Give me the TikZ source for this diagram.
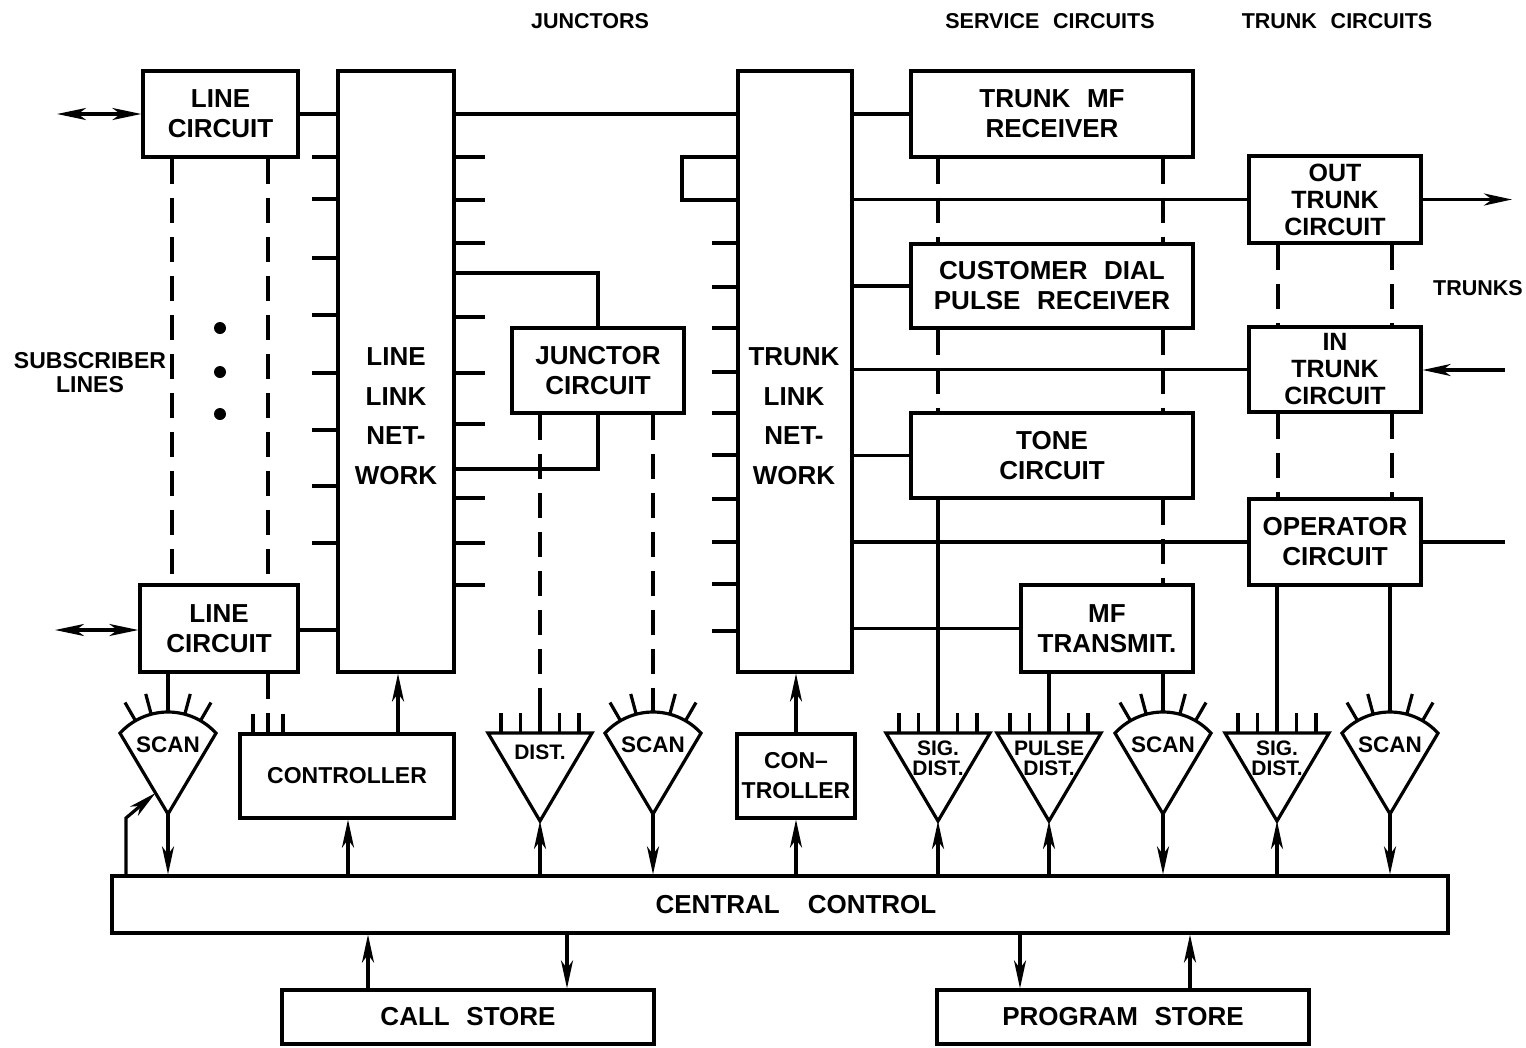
\documentclass[tikz,border=0pt]{standalone}
\usepackage{fontspec}
\setmainfont{Liberation Sans}[WordSpace=2.3]
\usetikzlibrary{arrows.meta}
\tikzset{
  ln/.style={line width=3.2pt},
  blk/.style={draw, line width=3.2pt, inner sep=0pt, align=center, font=\fontsize{26}{30}\bfseries\selectfont},
  txt/.style={inner sep=0pt, align=center, font=\fontsize{26}{30}\bfseries\selectfont},
  lbl/.style={inner sep=0pt, align=center, font=\fontsize{21.5}{24}\bfseries\selectfont},
  fanlbl/.style={inner sep=0pt, align=center, font=\fontsize{21}{20}\bfseries\selectfont},
  dsh/.style={line width=3.2pt, dash pattern=on 25pt off 14pt},
  arr/.style={line width=3.2pt, -{Stealth[length=28pt,width=12pt,inset=8pt]}},
  dbl/.style={line width=3.2pt, {Stealth[length=29pt,width=12pt,inset=8pt]}-{Stealth[length=29pt,width=12pt,inset=8pt]}},
}
\newcommand\blkbox[6]{\node[blk, minimum width={#4-#2}, minimum height={#5-#3}] (#1) at ({(#2+#4)/2},{(#3+#5)/2}) {#6};}
\newcommand\scanfan[2]{%
  \draw[ln, line join=miter] plot[domain=42.4:137.6, samples=40] ({#2+65*cos(\x)},{777-65*sin(\x)}) -- (#2,814) -- cycle;
  \foreach \a in {60,75,90,105,120} \draw[ln] ({#2+65*cos(\a)},{777-65*sin(\a)}) -- ({#2+86*cos(\a)},{777-86*sin(\a)});
  \node[fanlbl, font=\fontsize{22.5}{20}\bfseries\selectfont] (#1) at (#2,745) {SCAN};
  \coordinate (#1-apex) at (#2,814);
  \coordinate (#1-top) at (#2,712);
}
\newcommand\distfan[4]{%
  \draw[ln, line join=miter] ({#2-52},733) -- ({#2+52},733) -- (#2,821) -- cycle;
  \foreach \d in {-39,-19.5,0,19.5,39} \draw[ln] ({#2+\d},733) -- ({#2+\d},713);
  \node[fanlbl] (#1) at (#2,#3) {#4};
  \coordinate (#1-apex) at (#2,821);
  \coordinate (#1-top) at (#2,733);
  \coordinate (#1-tick) at (#2,713);
}
\begin{document}
\begin{tikzpicture}[x=1pt,y=-1pt]
\useasboundingbox[fill=white] (0,0) rectangle (1526,1047);

% headings
\node[lbl] (hj) at (590,21) {JUNCTORS};
\node[lbl] (hs) at (1050,21) {SERVICE CIRCUITS};
\node[lbl] (ht) at (1337,21) {TRUNK CIRCUITS};
\node[lbl] (htr) at (1478,288) {TRUNKS};
\node[lbl, font=\fontsize{23}{24}\bfseries\selectfont] (hsub) at (90,373) {SUBSCRIBER\\LINES};

% boxes
\blkbox{lc1}{143}{71}{298}{157}{LINE\\CIRCUIT}
\blkbox{lc2}{140}{585}{298}{672}{LINE\\CIRCUIT}
\blkbox{lln}{338}{71}{454}{672}{}
\node[txt, font=\fontsize{26}{39.5}\bfseries\selectfont] (llnt) at (396,416) {LINE\\LINK\\NET-\\WORK};
\blkbox{jc}{512}{328}{684}{413}{JUNCTOR\\CIRCUIT}
\blkbox{tln}{738}{71}{852}{672}{}
\node[txt, font=\fontsize{26}{39.5}\bfseries\selectfont] (tlnt) at (794,416) {TRUNK\\LINK\\NET-\\WORK};
\blkbox{tmf}{911}{71}{1193}{157}{TRUNK MF\\RECEIVER}
\blkbox{cdpr}{911}{244}{1193}{328}{CUSTOMER DIAL\\PULSE RECEIVER}
\blkbox{tone}{911}{413}{1193}{498}{TONE\\CIRCUIT}
\blkbox{mft}{1021}{585}{1193}{672}{MF\\TRANSMIT.}
\node[blk, font=\fontsize{25}{27}\bfseries\selectfont, minimum width=172, minimum height=87] (otc) at (1335,199.5) {OUT\\TRUNK\\CIRCUIT};
\node[blk, font=\fontsize{25}{27}\bfseries\selectfont, minimum width=172, minimum height=85] (itc) at (1335,369.5) {IN\\TRUNK\\CIRCUIT};
\blkbox{opc}{1249}{499}{1421}{585}{OPERATOR\\CIRCUIT}
\node[blk, font=\fontsize{23}{30}\bfseries\selectfont, minimum width=214, minimum height=84] (ctl1) at (347,776) {CONTROLLER};
\node[blk, font=\fontsize{23}{30}\bfseries\selectfont, minimum width=118, minimum height=84] (ctl2) at (796,776) {CON--\\TROLLER};
\blkbox{cc}{112}{876}{1448}{933}{}
\node[txt] (cct) at (796,905) {CENTRAL\hspace{28pt}CONTROL};
\blkbox{cs}{282}{990}{654}{1044}{CALL STORE}
\blkbox{ps}{937}{990}{1309}{1044}{PROGRAM STORE}

% fans
\scanfan{scan1}{168}
\scanfan{scan2}{653}
\scanfan{scan3}{1163}
\scanfan{scan4}{1390}
\distfan{dist1}{540}{752}{DIST.}
\distfan{sig1}{938}{758}{SIG.\\DIST.}
\distfan{pul}{1049}{758}{PULSE\\DIST.}
\distfan{sig2}{1277}{758}{SIG.\\DIST.}

% controller ticks
\foreach \t in {253,268,283} \draw[ln] (\t,734) -- (\t,714);

% subscriber lines
\coordinate (sub1) at (57,114);
\coordinate (sub2) at (55,630);
\draw[dbl] (sub1) -- (lc1.west |- sub1);
\draw[dbl] (sub2) -- (lc2.west |- sub2);
\draw[ln] (lc1.east |- sub1) -- (lln.west |- sub1);
\draw[ln] (lc2.east |- sub2) -- (lln.west |- sub2);

% LLN stubs
\foreach \y in {157,199,258,315,373,430,486,543} \draw[ln] (312,\y) -- (lln.west |- 0,\y);
\foreach \y in {157,200,243,317,373,424,498,543,585} \draw[ln] (lln.east |- 0,\y) -- (485,\y);
% LLN to TLN
\draw[ln] (lln.east |- tmf.west) -- (tln.west |- tmf.west);
% junctor
\draw[ln] (lln.east |- 0,273) -- (jc.north |- 0,273) -- (jc.north);
\draw[ln] (jc.south) -- (jc.south |- 0,469) -- (lln.east |- 0,469);

% TLN left stubs and loop
\foreach \y in {243,287,328,372,413,455,499,542,584,631} \draw[ln] (712,\y) -- (tln.west |- 0,\y);
\draw[ln] (tln.west |- 0,157) -- (682,157) -- (682,200) -- (tln.west |- 0,200);

% TLN right connections
\draw[ln] (tln.east |- tmf.west) -- (tmf.west);
\draw[ln] (tln.east |- otc.west) -- (otc.west);
\draw[ln] (tln.east |- cdpr.west) -- (cdpr.west);
\draw[ln] (tln.east |- itc.west) -- (itc.west);
\draw[ln] (tln.east |- tone.west) -- (tone.west);
\draw[ln] (tln.east |- opc.west) -- (opc.west);
\draw[ln] (tln.east |- mft.west) -- (mft.west);

% trunks
\coordinate (tout) at (1512,200);
\coordinate (tin) at (1505,370);
\coordinate (top) at (1505,542);
\draw[arr] (otc.east) -- (tout |- otc.east);
\draw[arr] (tin) -- (itc.east |- tin);
\draw[ln] (opc.east) -- (top |- opc.east);

% dots
\foreach \y in {328,372,414} \fill (220,\y) circle[radius=6];

% dashed: line circuits
\draw[dsh] (lc1.south -| 172,0) -- (lc2.north -| 172,0);
\draw[dsh] (lc1.south -| 268,0) -- (lc2.north -| 268,0);
\draw[dsh] (lc2.south -| scan1-top) -- (scan1-top);
\draw[dsh] (lc2.south -| 268,0) -- (268,714);
% junctor dashed
\draw[dsh] (jc.south -| dist1-tick) -- (dist1-tick);
\draw[dsh] (jc.south -| scan2-top) -- (scan2-top);
% service
\draw[dsh] (tmf.south -| sig1-top) -- (cdpr.north -| sig1-top);
\draw[dsh] (cdpr.south -| sig1-top) -- (tone.north -| sig1-top);
\draw[ln] (tone.south -| sig1-top) -- (sig1-top);
\draw[dsh] (tmf.south -| scan3-top) -- (cdpr.north -| scan3-top);
\draw[dsh] (cdpr.south -| scan3-top) -- (tone.north -| scan3-top);
\draw[dsh] (tone.south -| scan3-top) -- (mft.north -| scan3-top);
\draw[ln] (mft.south -| scan3-top) -- (scan3-top);
\draw[ln] (mft.south -| pul-top) -- (pul-top);
% trunk
\draw[dsh] (otc.south -| 1278,0) -- (itc.north -| 1278,0);
\draw[dsh] (itc.south -| 1278,0) -- (opc.north -| 1278,0);
\draw[dsh] (otc.south -| 1392,0) -- (itc.north -| 1392,0);
\draw[dsh] (itc.south -| 1392,0) -- (opc.north -| 1392,0);
\draw[ln] (opc.south -| sig2-top) -- (sig2-top);
\draw[ln] (opc.south -| scan4-top) -- (scan4-top);

% arrows to/from central control
\draw[arr] (scan1-apex) -- (scan1-apex |- cc.north);
\coordinate (s1e) at (155.5,793);
\draw[arr] (126,0 |- cc.north) -- (126,818) -- (s1e);
\draw[arr] (348,0 |- cc.north) -- (348,0 |- ctl1.south);
\draw[arr] (398,0 |- ctl1.north) -- (398,0 |- lln.south);
\draw[arr] (dist1-apex |- cc.north) -- (dist1-apex);
\draw[arr] (scan2-apex) -- (scan2-apex |- cc.north);
\draw[arr] (ctl2.south |- cc.north) -- (ctl2.south);
\draw[arr] (ctl2.north) -- (ctl2.north |- tln.south);
\draw[arr] (sig1-apex |- cc.north) -- (sig1-apex);
\draw[arr] (pul-apex |- cc.north) -- (pul-apex);
\draw[arr] (scan3-apex) -- (scan3-apex |- cc.north);
\draw[arr] (sig2-apex |- cc.north) -- (sig2-apex);
\draw[arr] (scan4-apex) -- (scan4-apex |- cc.north);
% stores
\draw[arr] (368,0 |- cs.north) -- (368,0 |- cc.south);
\draw[arr] (567,0 |- cc.south) -- (567,0 |- cs.north);
\draw[arr] (1020,0 |- cc.south) -- (1020,0 |- ps.north);
\draw[arr] (1190,0 |- ps.north) -- (1190,0 |- cc.south);
\end{tikzpicture}
\end{document}
